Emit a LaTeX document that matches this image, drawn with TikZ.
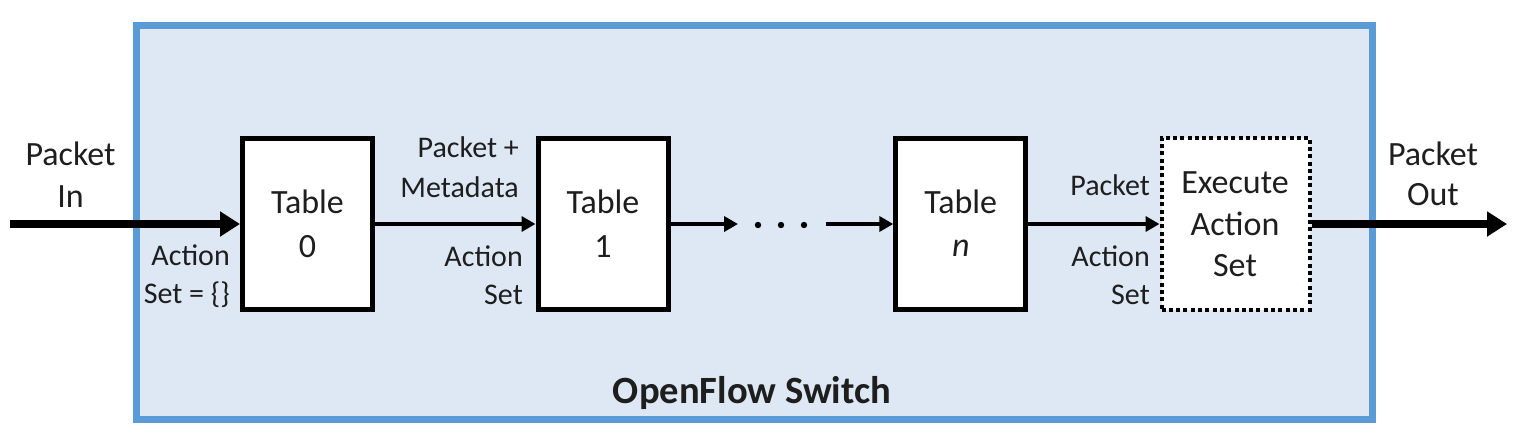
\documentclass[tikz,border=0pt]{standalone}
\usepackage{fontspec}
\setmainfont{Carlito}
\usetikzlibrary{arrows.meta}
\definecolor{swfill}{HTML}{DDE8F4}
\definecolor{swborder}{HTML}{5B9BD5}
\definecolor{txt}{HTML}{1E1E1E}
\begin{document}
\begin{tikzpicture}[x=1pt,y=-1pt,
  switchbox/.style={draw=swborder, line width=7pt, fill=swfill, inner sep=0pt},
  tablebox/.style={draw=black, line width=5pt, fill=white, inner sep=0pt,
    minimum width=130pt, minimum height=171pt},
  execbox/.style={draw=black, line width=4pt, fill=white, inner sep=0pt,
    dash pattern=on 4pt off 3.3pt, minimum width=148pt, minimum height=172pt},
  bigtext/.style={text=txt, inner sep=0pt, align=center,
    font=\fontsize{34}{42}\selectfont},
  smalltext/.style={text=txt, inner sep=0pt, align=right,
    font=\fontsize{30}{38}\selectfont},
  bigarrow/.style={line width=8pt, -{Triangle[length=20pt,width=24pt]}},
  thinarrow/.style={line width=4.5pt, -{Triangle[length=14pt,width=15pt]}}
]
\useasboundingbox (0,0) rectangle (1518,440);
\node[switchbox, minimum width=1236pt, minimum height=394pt] (sw) at (754.5,222) {};
\node[text=txt, inner sep=0pt, anchor=base, font=\fontsize{38.6}{44}\selectfont\bfseries] (swl) at (752,403) {OpenFlow Switch};

\node[tablebox] (t0) at (307.5,223.5) {};
\node[tablebox] (t1) at (603,223.5) {};
\node[tablebox] (tn) at (960.8,223.5) {};
\node[execbox] (ex) at (1235.5,223.5) {};

% base anchor of a multi-line node = baseline of its last line
\node[bigtext, anchor=base, font=\fontsize{34}{44}\selectfont] (t0l) at (307.5,257) {Table\\0};
\node[bigtext, anchor=base, font=\fontsize{34}{44}\selectfont] (t1l) at (603,257) {Table\\1};
\node[bigtext, anchor=base, font=\fontsize{34}{43}\selectfont] (tnl) at (960.8,256) {Table\\\textit{n}};
\node[bigtext, anchor=base, font=\fontsize{34}{41.7}\selectfont] (exl) at (1235,276.7) {Execute\\Action\\Set};

\node[bigtext, anchor=base] (pin) at (70.5,207) {Packet\\In};
\node[bigtext, anchor=base, font=\fontsize{34}{40}\selectfont] (pout) at (1433,205) {Packet\\Out};

\node[smalltext, anchor=base east] (as0) at (230,303) {Action\\Set = \{\}};
\node[smalltext, anchor=base east, font=\fontsize{30}{40}\selectfont] (pm) at (519,197) {Packet +\\Metadata};
\node[smalltext, anchor=base east] (as1) at (523,304) {Action\\Set};
\node[smalltext, anchor=base east] (pk) at (1150,195) {Packet};
\node[smalltext, anchor=base east] (asn) at (1150,304) {Action\\Set};

\coordinate (inl) at (10,224);
\coordinate (outr) at (1507,224);
\coordinate (dl) at (738,224);
\coordinate (dr) at (826,224);

\draw[bigarrow] (inl) -- (t0.west |- inl);
\draw[thinarrow] (t0.east |- inl) -- (t1.west |- inl);
\draw[thinarrow] (t1.east |- inl) -- (dl);
\draw[thinarrow] (dr) -- (tn.west |- inl);
\draw[thinarrow] (tn.east |- inl) -- (ex.west |- inl);
\draw[bigarrow] (ex.east |- inl) -- (outr);

\fill[black] (758,225) circle (3.2pt) (781,225) circle (3.2pt) (804,225) circle (3.2pt);
\end{tikzpicture}
\end{document}
